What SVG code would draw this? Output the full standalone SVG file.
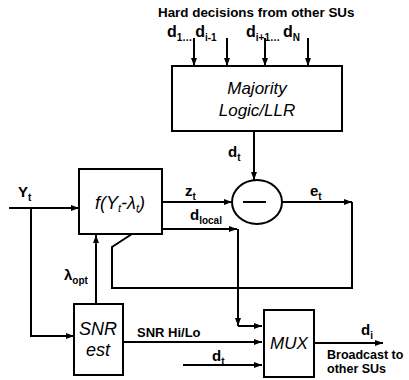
<svg xmlns="http://www.w3.org/2000/svg" width="409" height="380" viewBox="0 0 409 380">
<style>
.box{fill:#fff;stroke:#000;stroke-width:2}
.ln{fill:none;stroke:#000;stroke-width:2}
.arr{fill:none;stroke:#000;stroke-width:2;marker-end:url(#ah)}
text{font-family:"Liberation Sans",Arial,sans-serif;fill:#000}
.lb{font-size:15px;font-weight:bold}
.sm{font-size:13px;font-weight:bold}
.it{font-size:17px;font-style:italic}
.sub{font-size:10px}
</style>
<defs>
<marker id="ah" markerWidth="8" markerHeight="6" refX="8" refY="3" orient="auto" markerUnits="userSpaceOnUse">
<path d="M0,0 L8,3 L0,6 Z" fill="#000"/>
</marker>
</defs>
<g id="connectors">
<line class="arr" x1="194" y1="38" x2="194" y2="66"/>
<line class="arr" x1="227" y1="38" x2="227" y2="66"/>
<line class="arr" x1="265" y1="38" x2="265" y2="66"/>
<line class="arr" x1="308" y1="38" x2="308" y2="66"/>
<line class="arr" x1="254" y1="131" x2="254" y2="180"/>
<line class="arr" x1="9" y1="208" x2="79" y2="208"/>
<polyline class="arr" points="31,208 31,336 74,336"/>
<line class="arr" x1="162" y1="202" x2="232" y2="202"/>
<line class="arr" x1="282" y1="202" x2="352" y2="202"/>
<polyline class="arr" points="352,202 352,288 112,288 112,247 155,219"/>
<line class="arr" x1="162" y1="229" x2="237" y2="229"/>
<line class="arr" x1="238" y1="229" x2="238" y2="326"/>
<line class="arr" x1="238" y1="326" x2="262" y2="326"/>
<line class="arr" x1="96" y1="304" x2="96" y2="235"/>
<line class="arr" x1="123" y1="342" x2="262" y2="342"/>
<line class="arr" x1="183" y1="365" x2="262" y2="365"/>
<line class="arr" x1="314" y1="343" x2="383" y2="343"/>
</g>
<g id="title">
<text class="sm" x="158" y="17" style="font-size:13.4px">Hard decisions from other SUs</text>
<text class="lb" x="167" y="37" style="font-size:16px">d<tspan class="sub" dy="4">1….</tspan><tspan dy="-4">d</tspan><tspan class="sub" dy="4">i-1</tspan></text>
<text class="lb" x="246" y="37" style="font-size:16px">d<tspan class="sub" dy="4">i+1…</tspan><tspan dx="3" dy="-4">d</tspan><tspan class="sub" dy="4">N</tspan></text>
</g>
<g id="majority">
<rect class="box" x="172" y="66" width="170" height="65"/>
<text class="it" x="257" y="94" text-anchor="middle">Majority</text>
<text class="it" x="257" y="116" text-anchor="middle">Logic/LLR</text>
<text class="lb" x="228" y="157">d<tspan class="sub" dy="4">t</tspan></text>
</g>
<g id="subtractor">
<ellipse class="box" cx="257" cy="202" rx="25" ry="22"/>
<line class="ln" x1="243" y1="202" x2="266" y2="202"/>
</g>
<g id="f">
<rect class="box" x="79" y="169" width="83" height="65"/>
<text class="it" x="120" y="209" text-anchor="middle" style="font-size:18px">f(Y<tspan style="font-size:11px" dy="3">t</tspan><tspan dy="-3">-λ</tspan><tspan style="font-size:11px" dy="3">t</tspan><tspan dy="-3">)</tspan></text>
</g>
<g id="labels">
<text class="lb" x="18" y="197">Y<tspan class="sub" dy="4">t</tspan></text>
<text class="lb" x="185" y="196">z<tspan class="sub" dy="4">t</tspan></text>
<text class="lb" x="310" y="196">e<tspan class="sub" dy="4">t</tspan></text>
<text class="lb" x="190" y="220">d<tspan class="sub" dy="4">local</tspan></text>
<text class="lb" x="64" y="280">λ<tspan class="sub" dy="4">opt</tspan></text>
<text class="sm" x="137" y="337">SNR Hi/Lo</text>
<text class="lb" x="212" y="361">d<tspan class="sub" dy="4">t</tspan></text>
<text class="lb" x="361" y="335">d<tspan class="sub" dy="4">i</tspan></text>
<text class="sm" x="327" y="359" style="font-size:12.5px">Broadcast to</text>
<text class="sm" x="327" y="373" style="font-size:12.5px">other SUs</text>
</g>
<g id="snr">
<rect class="box" x="74" y="304" width="49" height="71"/>
<text class="it" x="98" y="335" text-anchor="middle" style="font-size:18px">SNR</text>
<text class="it" x="98" y="356" text-anchor="middle" style="font-size:18px">est</text>
</g>
<g id="mux">
<rect class="box" x="264" y="310" width="50" height="67"/>
<text class="it" x="289" y="349" text-anchor="middle">MUX</text>
</g>
</svg>
